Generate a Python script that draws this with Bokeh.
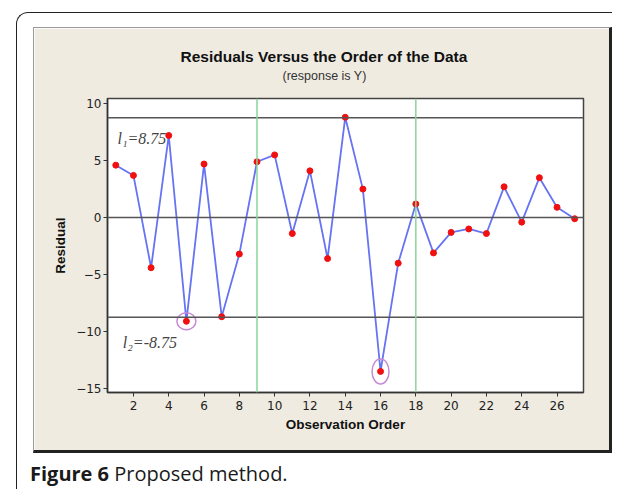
from bokeh.plotting import figure
from bokeh.models import Span, Label, Div, Range1d, ColumnDataSource, Title
from bokeh.layouts import column
from bokeh.embed import file_html
from bokeh.resources import INLINE

# ---- data ----
order = list(range(1, 28))
residual = [4.6, 3.7, -4.4, 7.2, -9.1, 4.7, -8.7, -3.2, 4.9, 5.5, -1.4, 4.1, -3.6, 8.8,
            2.5, -13.5, -4.0, 1.2, -3.1, -1.3, -1.0, -1.4, 2.7, -0.4, 3.5, 0.9, -0.1]
limits = [8.75, -8.75]
limit_labels = ["l\u2081=8.75", "l\u2082=-8.75"]
limit_label_pos = [(1.1, 6.9), (1.4, -11.0)]
zero_line = [0]
splits = [9, 18]
flagged = [5, 16]
x_ticks = list(range(2, 27, 2))
y_ticks = [-15, -10, -5, 0, 5, 10]
title_text = "Residuals Versus the Order of the Data"
subtitle_text = "(response is Y)"

BEIGE = "#EFEBE1"

p = figure(width=579, height=426,
           x_range=Range1d(0.53, 27.5), y_range=Range1d(-15.35, 10.45),
           output_backend="svg", toolbar_location=None,
           min_border_left=73, min_border_right=30,
           min_border_top=70, min_border_bottom=62)
p.background_fill_color = "white"
p.border_fill_color = BEIGE
p.outline_line_color = "#444444"
p.outline_line_width = 1.5
p.grid.visible = False

for ax in (p.xaxis[0], p.yaxis[0]):
    ax.axis_line_color = "#333333"
    ax.axis_line_width = 1.5
    ax.major_tick_out = 4
    ax.major_tick_in = 0
    ax.major_tick_line_color = "#333333"
    ax.minor_tick_line_color = None
    ax.major_label_text_font = "DejaVu Sans"
    ax.major_label_text_font_size = "12px"
    ax.major_label_text_color = "#222222"
    ax.axis_label_text_font = "Liberation Sans"
    ax.axis_label_text_font_style = "bold"
    ax.axis_label_text_font_size = "13.5px"
    ax.axis_label_text_color = "#111111"

p.xaxis.ticker = x_ticks
p.yaxis.ticker = y_ticks
p.xaxis.major_label_standoff = 4
p.yaxis.major_label_standoff = 2
p.xaxis.axis_label = "Observation Order"
p.yaxis.axis_label = "Residual"
p.xaxis.axis_label_standoff = 4
p.yaxis.axis_label_standoff = 5

# titles: spacer (closest to frame), subtitle, main title
p.add_layout(Title(text=" ", standoff=1, text_font_size="11px"), "above")
p.add_layout(Title(text=subtitle_text, align="left", offset=175, standoff=2,
                   text_font="Liberation Sans", text_font_style="normal",
                   text_font_size="12.5px", text_color="#333333"), "above")
p.add_layout(Title(text=title_text, align="left", offset=73, standoff=2,
                   text_font="Liberation Sans", text_font_style="bold",
                   text_font_size="15.5px", text_color="#111111"), "above")

# reference lines
p.add_layout(Span(location=zero_line[0], dimension="width", line_color="#555555", line_width=1.5))
for lv in limits:
    p.add_layout(Span(location=lv, dimension="width", line_color="#555555", line_width=1.5))
for sv in splits:
    p.add_layout(Span(location=sv, dimension="height", line_color="#8CD49A", line_width=1.5))

src = ColumnDataSource(dict(x=order, y=residual))
p.line("x", "y", source=src, line_color="#6673F2", line_width=1.8)
p.scatter("x", "y", source=src, size=6, fill_color="#F01010", line_color="#F01010")

fx = flagged
fy = [residual[i - 1] for i in flagged]
p.ellipse(x=fx, y=fy, width=[19, 17], height=[17, 25],
          width_units="screen", height_units="screen",
          fill_color=None, line_color="#C68AD4", line_width=1.5)

for txt, (lx, ly) in zip(limit_labels, limit_label_pos):
    p.add_layout(Label(x=lx, y=ly, text=txt, text_font="Liberation Serif",
                       text_font_style="italic", text_font_size="16px",
                       text_color="#444444", text_baseline="middle"))

p.styles = {"border-top": "1px solid #9a9a9a", "border-left": "1px solid #9a9a9a",
            "border-bottom": "3px solid #222222", "border-right": "3px solid #222222"}
p.margin = (14, 0, 0, 16)

caption = Div(text="<b>Figure 6</b> Proposed method.",
              styles={"font-family": "Open Sans", "font-size": "20px", "color": "#1a1a1a"},
              margin=(7, 0, 0, 13), width=400)

inner = column(p, caption,
               styles={"border-left": "1.5px solid #222", "border-top": "1.5px solid #222",
                       "border-top-left-radius": "12px", "transform": "translateX(4px)"},
               margin=(12, 0, 0, 8))
layout = column(inner, margin=(0, 0, 0, 4))

open("out.html", "w").write(file_html(layout, INLINE))
